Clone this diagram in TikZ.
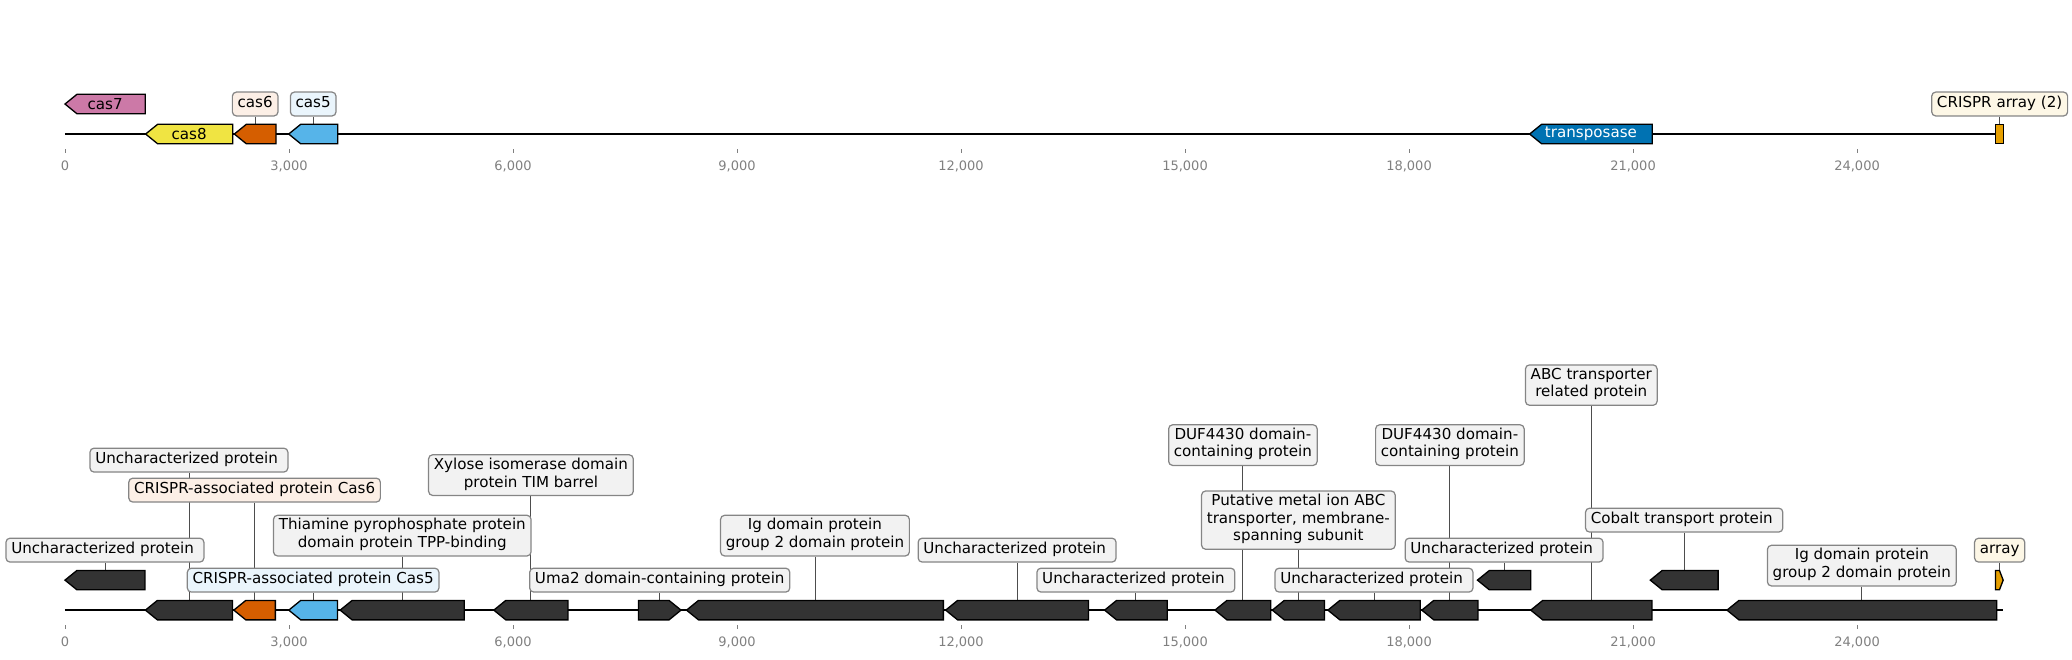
\documentclass[tikz,border=0pt]{standalone}
\usepackage{fontspec}
\setmainfont{DejaVu Sans}
\usetikzlibrary{backgrounds}

\definecolor{casseven}{HTML}{CC79A7}
\definecolor{caseight}{HTML}{F0E442}
\definecolor{cassix}{HTML}{D55E00}
\definecolor{casfive}{HTML}{56B4E9}
\definecolor{transp}{HTML}{0072B2}
\definecolor{arrayc}{HTML}{E69F00}
\definecolor{darkgene}{HTML}{333333}
\definecolor{labfill}{HTML}{F2F2F2}
\definecolor{labedge}{HTML}{858585}
\definecolor{sixfill}{HTML}{FCEFE6}
\definecolor{fivefill}{HTML}{EAF5FC}
\definecolor{arrfill}{HTML}{FDF7E6}
\definecolor{conncol}{HTML}{4D4D4D}
\definecolor{tickcol}{HTML}{808080}

\begin{document}
\begin{tikzpicture}[x=1.49333cm, y=-0.02cm,
  gene/.style={draw=black, line width=0.75pt},
  lab/.style={draw=labedge, fill=labfill, line width=0.7pt, rounded corners=2.3pt,
    inner xsep=3pt, inner ysep=1.8pt, align=center, font=\fontsize{8.6}{10}\selectfont,
    execute at begin node=\strut, execute at end node=\strut},
  intext/.style={font=\fontsize{8.6}{10}\selectfont, inner sep=0pt},
  conn/.style={draw=conncol, line width=0.5pt},
  axisline/.style={draw=black, line width=1.2pt},
  tick/.style={draw=tickcol, line width=0.5pt},
  ticklab/.style={text=tickcol, font=\fontsize{7.4}{8}\selectfont, inner sep=0pt}]
  \useasboundingbox (-0.8705,0) rectangle (26.879,659);

  % top track
  \draw[axisline] (0,134) -- (25.96,134);
  \draw[tick] (0,149) -- (0,153) (3,149) -- (3,153) (6,149) -- (6,153)
    (9,149) -- (9,153) (12,149) -- (12,153) (15,149) -- (15,153)
    (18,149) -- (18,153) (21,149) -- (21,153) (24,149) -- (24,153);
  \path (0,166) node[ticklab](t0){0}
    (3,166) node[ticklab](t3){3,000}
    (6,166) node[ticklab](t6){6,000}
    (9,166) node[ticklab](t9){9,000}
    (12,166) node[ticklab](t12){12,000}
    (15,166) node[ticklab](t15){15,000}
    (18,166) node[ticklab](t18){18,000}
    (21,166) node[ticklab](t21){21,000}
    (24,166) node[ticklab](t24){24,000};

  \draw[gene, fill=casseven] (0,104) -- (0.16,94.3) -- (1.075,94.3) -- (1.075,113.7) -- (0.16,113.7) -- cycle;
  \draw[gene, fill=caseight] (1.08,134) -- (1.24,124.3) -- (2.246,124.3) -- (2.246,143.7) -- (1.24,143.7) -- cycle;
  \draw[gene, fill=cassix] (2.268,134) -- (2.428,124.3) -- (2.826,124.3) -- (2.826,143.7) -- (2.428,143.7) -- cycle;
  \draw[gene, fill=casfive] (2.996,134) -- (3.156,124.3) -- (3.652,124.3) -- (3.652,143.7) -- (3.156,143.7) -- cycle;
  \draw[gene, fill=transp] (19.615,134) -- (19.775,124.3) -- (21.257,124.3) -- (21.257,143.7) -- (19.775,143.7) -- cycle;
  \draw[gene, fill=arrayc] (25.858,124.3) rectangle (25.96,143.7);

  \path (0.537,104) node[intext](cas7){cas7}
    (1.663,134) node[intext](cas8){cas8}
    (20.436,134) node[intext, text=white](trans){transposase}
    (2.547,124.3) coordinate(gcas6)
    (3.324,124.3) coordinate(gcas5)
    (25.91,124.3) coordinate(garr)
    (2.547,104) node[lab, fill=sixfill](lcas6){cas6}
    (3.324,104) node[lab, fill=fivefill](lcas5){cas5}
    (25.91,104) node[lab, fill=arrfill](larr){CRISPR array (2)};

  % bottom track
  \draw[axisline] (0,610) -- (25.96,610);
  \draw[tick] (0,625) -- (0,629) (3,625) -- (3,629) (6,625) -- (6,629)
    (9,625) -- (9,629) (12,625) -- (12,629) (15,625) -- (15,629)
    (18,625) -- (18,629) (21,625) -- (21,629) (24,625) -- (24,629);
  \path (0,642) node[ticklab](b0){0}
    (3,642) node[ticklab](b3){3,000}
    (6,642) node[ticklab](b6){6,000}
    (9,642) node[ticklab](b9){9,000}
    (12,642) node[ticklab](b12){12,000}
    (15,642) node[ticklab](b15){15,000}
    (18,642) node[ticklab](b18){18,000}
    (21,642) node[ticklab](b21){21,000}
    (24,642) node[ticklab](b24){24,000};

  \draw[gene, fill=darkgene] (0,580) -- (0.16,570.3) -- (1.071,570.3) -- (1.071,589.7) -- (0.16,589.7) -- cycle;
  \draw[gene, fill=darkgene] (1.077,610) -- (1.237,600.3) -- (2.243,600.3) -- (2.243,619.7) -- (1.237,619.7) -- cycle;
  \draw[gene, fill=cassix] (2.261,610) -- (2.421,600.3) -- (2.817,600.3) -- (2.817,619.7) -- (2.421,619.7) -- cycle;
  \draw[gene, fill=casfive] (2.997,610) -- (3.157,600.3) -- (3.649,600.3) -- (3.649,619.7) -- (3.157,619.7) -- cycle;
  \draw[gene, fill=darkgene] (3.685,610) -- (3.845,600.3) -- (5.348,600.3) -- (5.348,619.7) -- (3.845,619.7) -- cycle;
  \draw[gene, fill=darkgene] (5.743,610) -- (5.903,600.3) -- (6.736,600.3) -- (6.736,619.7) -- (5.903,619.7) -- cycle;
  \draw[gene, fill=darkgene] (7.68,600.3) -- (8.09,600.3) -- (8.25,610) -- (8.09,619.7) -- (7.68,619.7) -- cycle;
  \draw[gene, fill=darkgene] (8.324,610) -- (8.484,600.3) -- (11.764,600.3) -- (11.764,619.7) -- (8.484,619.7) -- cycle;
  \draw[gene, fill=darkgene] (11.794,610) -- (11.954,600.3) -- (13.708,600.3) -- (13.708,619.7) -- (11.954,619.7) -- cycle;
  \draw[gene, fill=darkgene] (13.923,610) -- (14.083,600.3) -- (14.761,600.3) -- (14.761,619.7) -- (14.083,619.7) -- cycle;
  \draw[gene, fill=darkgene] (15.401,610) -- (15.561,600.3) -- (16.148,600.3) -- (16.148,619.7) -- (15.561,619.7) -- cycle;
  \draw[gene, fill=darkgene] (16.169,610) -- (16.329,600.3) -- (16.868,600.3) -- (16.868,619.7) -- (16.329,619.7) -- cycle;
  \draw[gene, fill=darkgene] (16.913,610) -- (17.073,600.3) -- (18.149,600.3) -- (18.149,619.7) -- (17.073,619.7) -- cycle;
  \draw[gene, fill=darkgene] (18.171,610) -- (18.331,600.3) -- (18.923,600.3) -- (18.923,619.7) -- (18.331,619.7) -- cycle;
  \draw[gene, fill=darkgene] (18.916,580) -- (19.076,570.3) -- (19.63,570.3) -- (19.63,589.7) -- (19.076,589.7) -- cycle;
  \draw[gene, fill=darkgene] (19.63,610) -- (19.79,600.3) -- (21.253,600.3) -- (21.253,619.7) -- (19.79,619.7) -- cycle;
  \draw[gene, fill=darkgene] (21.231,580) -- (21.391,570.3) -- (22.139,570.3) -- (22.139,589.7) -- (21.391,589.7) -- cycle;
  \draw[gene, fill=darkgene] (22.258,610) -- (22.418,600.3) -- (25.87,600.3) -- (25.87,619.7) -- (22.418,619.7) -- cycle;
  \draw[gene, fill=arrayc] (25.855,570.3) -- (25.907,570.3) -- (25.957,580) -- (25.907,589.7) -- (25.855,589.7) -- cycle;

  \path (0.535,570.3) coordinate(gu1)
    (1.66,600.3) coordinate(gu2)
    (2.539,600.3) coordinate(gc6)
    (3.323,600.3) coordinate(gc5)
    (4.517,600.3) coordinate(gtpp)
    (6.24,600.3) coordinate(gxyl)
    (7.965,600.3) coordinate(guma)
    (10.044,600.3) coordinate(gig1)
    (12.751,600.3) coordinate(gu3)
    (14.342,600.3) coordinate(gu4)
    (15.775,600.3) coordinate(gduf1)
    (16.518,600.3) coordinate(gmet)
    (17.531,600.3) coordinate(gu5)
    (18.547,600.3) coordinate(gduf2)
    (19.273,570.3) coordinate(gu6)
    (20.441,600.3) coordinate(gabc)
    (21.685,570.3) coordinate(gcob)
    (24.064,600.3) coordinate(gig2)
    (25.91,570.3) coordinate(gar);

  \path (0.535,550) node[lab](u1){Uncharacterized protein\ }
    (1.66,460) node[lab](u2){Uncharacterized protein\ }
    (2.539,490) node[lab, fill=sixfill](c6){CRISPR-associated protein Cas6}
    (3.323,580) node[lab, fill=fivefill](c5){CRISPR-associated protein Cas5}
    (4.517,535.5) node[lab](tpp){Thiamine pyrophosphate protein\\domain protein TPP-binding}
    (6.24,475) node[lab](xyl){Xylose isomerase domain\\protein TIM barrel}
    (7.965,580) node[lab](uma){Uma2 domain-containing protein}
    (10.044,535.5) node[lab](ig1){Ig domain protein\\group 2 domain protein}
    (12.751,550) node[lab](u3){Uncharacterized protein\ }
    (14.342,580) node[lab](u4){Uncharacterized protein\ }
    (15.775,445) node[lab](duf1){DUF4430 domain-\\containing protein}
    (16.518,520) node[lab](met){Putative metal ion ABC\\transporter, membrane-\\spanning subunit}
    (17.531,580) node[lab](u5){Uncharacterized protein\ }
    (18.547,445) node[lab](duf2){DUF4430 domain-\\containing protein}
    (19.273,550) node[lab](u6){Uncharacterized protein\ }
    (20.441,385) node[lab](abc){ABC transporter\\related protein}
    (21.685,520) node[lab](cob){Cobalt transport protein\ }
    (24.064,565.5) node[lab](ig2){Ig domain protein\\group 2 domain protein}
    (25.91,550) node[lab, fill=arrfill](ar){array};

  \begin{scope}[on background layer]
    \draw[conn] (lcas6.south) -- (gcas6);
    \draw[conn] (lcas5.south) -- (gcas5);
    \draw[conn] (larr.south) -- (garr);
    \draw[conn] (u1.south) -- (gu1);
    \draw[conn] (u2.south) -- (gu2);
    \draw[conn] (c6.south) -- (gc6);
    \draw[conn] (c5.south) -- (gc5);
    \draw[conn] (tpp.south) -- (gtpp);
    \draw[conn] (xyl.south) -- (gxyl);
    \draw[conn] (uma.south) -- (guma);
    \draw[conn] (ig1.south) -- (gig1);
    \draw[conn] (u3.south) -- (gu3);
    \draw[conn] (u4.south) -- (gu4);
    \draw[conn] (duf1.south) -- (gduf1);
    \draw[conn] (met.south) -- (gmet);
    \draw[conn] (u5.south) -- (gu5);
    \draw[conn] (duf2.south) -- (gduf2);
    \draw[conn] (u6.south) -- (gu6);
    \draw[conn] (abc.south) -- (gabc);
    \draw[conn] (cob.south) -- (gcob);
    \draw[conn] (ig2.south) -- (gig2);
    \draw[conn] (ar.south) -- (gar);
  \end{scope}
\end{tikzpicture}
\end{document}
